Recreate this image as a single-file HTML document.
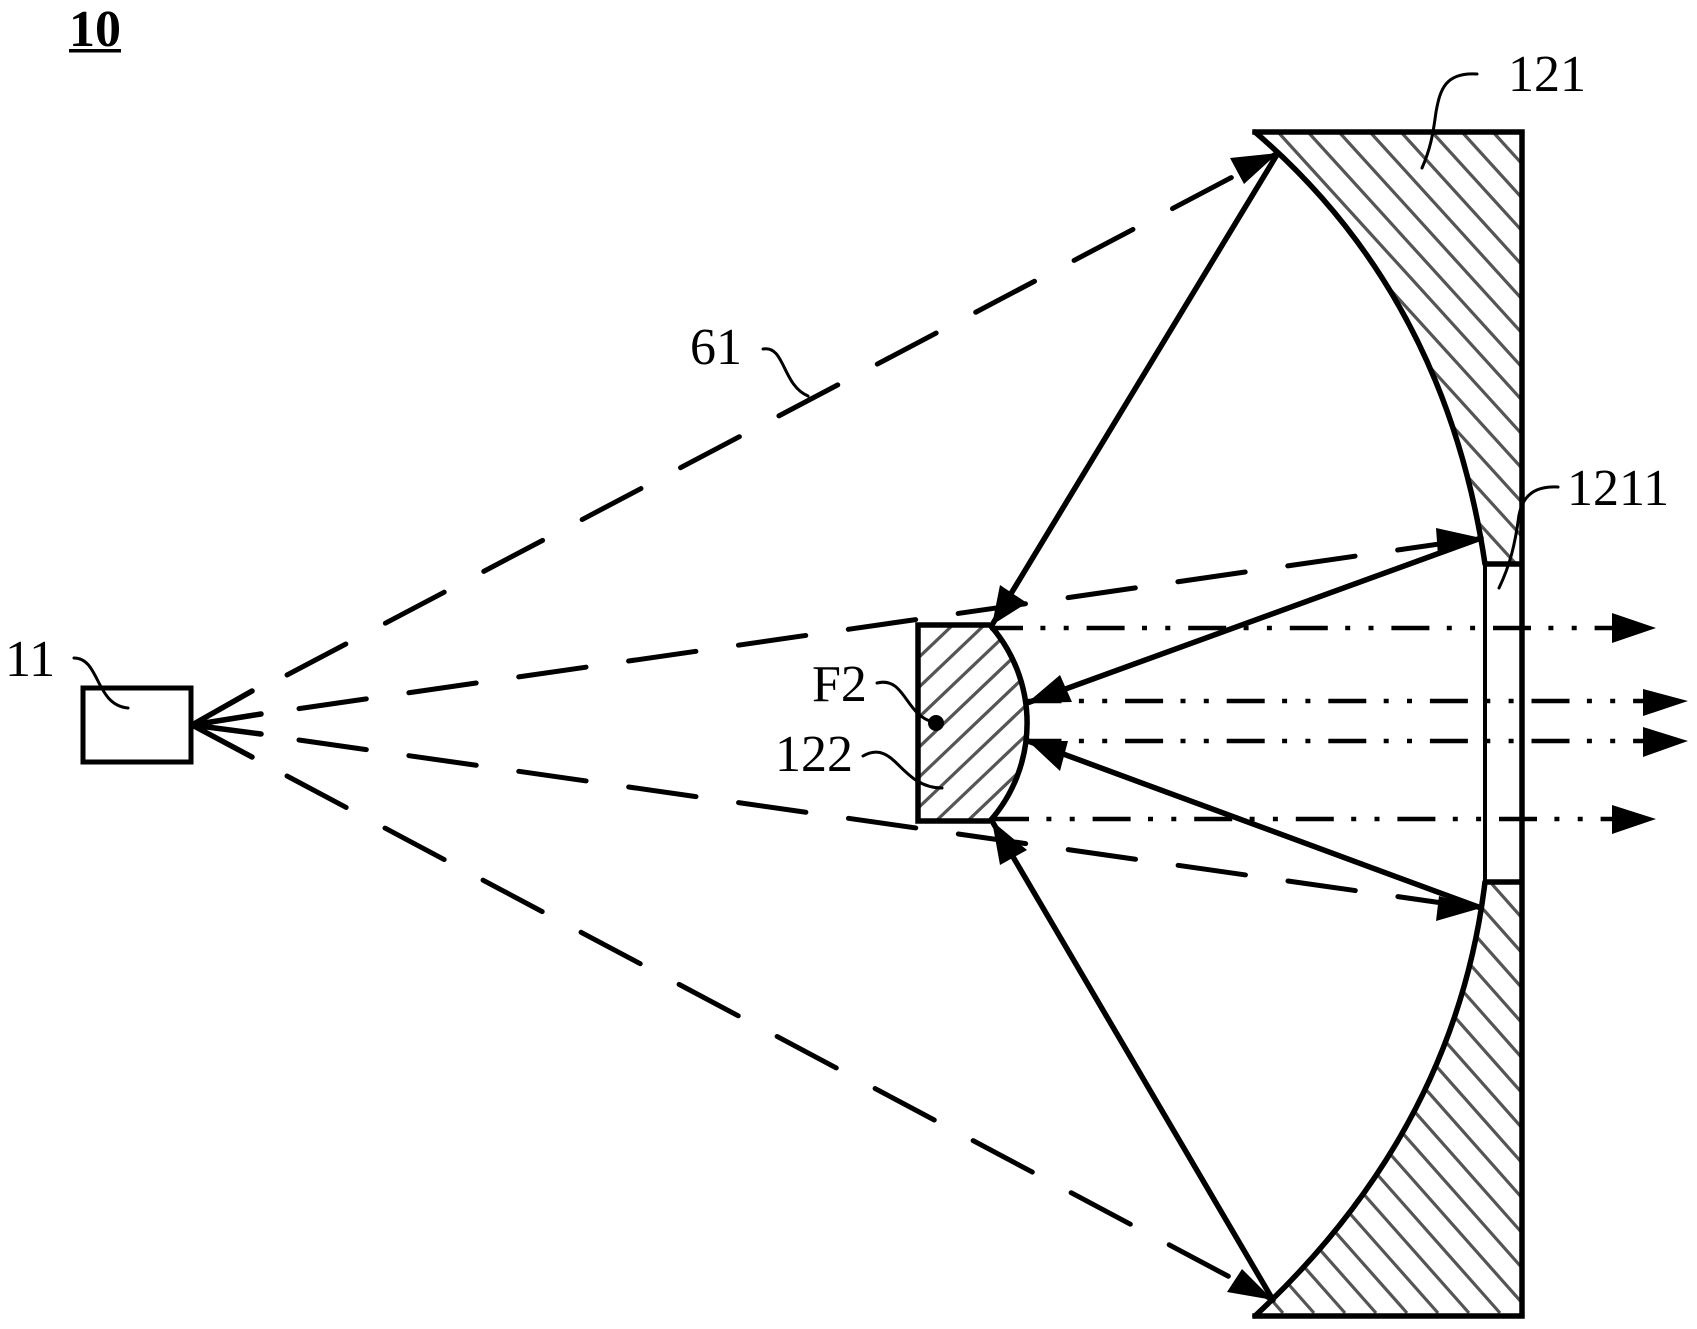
<!DOCTYPE html>
<html><head><meta charset="utf-8"><style>
html,body{margin:0;padding:0;background:#fff}
svg{display:block}
text{font-family:"Liberation Serif",serif;font-size:52px;fill:#000}
</style></head><body>
<svg width="1697" height="1329" viewBox="0 0 1697 1329" xmlns="http://www.w3.org/2000/svg">
<defs>
<clipPath id="m1"><path d="M1255 132L1522 132L1522 564L1485 564Q1445 295 1255 132Z"/></clipPath>
<clipPath id="m2"><path d="M1485 882L1522 882L1522 1316L1255 1316Q1455 1130 1485 882Z"/></clipPath>
<clipPath id="l"><path d="M918 625L990 625A148 148 0 0 1 990 821L918 821Z"/></clipPath>
</defs>
<g fill="none" stroke="#555" stroke-width="3.2">
<path clip-path="url(#m1)" d="M1092 132l393 432M1123 132l393 432M1154 132l393 432M1185 132l393 432M1216 132l393 432M1247 132l393 432M1278 132l393 432M1308 132l393 432M1339 132l393 432M1370 132l393 432M1401 132l393 432M1432 132l393 432M1462 132l393 432M1493 132l393 432"/>
<path clip-path="url(#m2)" d="M1283 1313l-381 -430M1314 1313l-381 -430M1345 1313l-381 -430M1376 1313l-381 -430M1407 1313l-381 -430M1438 1313l-381 -430M1469 1313l-381 -430M1500 1313l-381 -430M1531 1313l-381 -430M1562 1313l-381 -430M1593 1313l-381 -430M1624 1313l-381 -430M1655 1313l-381 -430M1686 1313l-381 -430M1717 1313l-381 -430M1748 1313l-381 -430M1779 1313l-381 -430M1810 1313l-381 -430M1841 1313l-381 -430M1872 1313l-381 -430M1903 1313l-381 -430M1934 1313l-381 -430"/>
<path clip-path="url(#l)" d="M915 661l125 -119M915 691l125 -119M915 721l125 -119M915 751l125 -119M915 781l125 -119M915 811l125 -119M915 841l125 -119M915 871l125 -119M915 901l125 -119M915 931l125 -119"/>
</g>
<g fill="none" stroke="#000" stroke-width="5.5" stroke-linecap="round">
<path d="M1255 132L1522 132L1522 1316L1255 1316" stroke-linecap="square"/>
<path d="M1255 132Q1445 295 1485 564"/>
<path d="M1255 1316Q1455 1130 1485 882"/>
<path d="M1485 564L1522 564M1485 882L1522 882" stroke-linecap="butt"/>
<path d="M1485 564L1485 882" stroke-width="4" stroke-linecap="butt"/>
<path d="M990 625L918 625L918 821L990 821M990 625A148 148 0 0 1 990 821" stroke-linecap="butt"/>
<rect x="83" y="688" width="108" height="74" stroke-width="5"/>
<path d="M192 725L252 691M192 725L261 714M192 725L261 734M192 725L252 757"/>
<path d="M1278 153L992 625M1273 1300L992 821M1481 538L1027 703M1481 908L1028 741"/>
</g>
<g fill="none" stroke="#000" stroke-width="5" stroke-linecap="round">
<path d="M287 675L1278 153" stroke-dasharray="66.5 44.7"/>
<path d="M287 776L1273 1300" stroke-dasharray="67 44"/>
<path d="M299 708.6L1481 538" stroke-dasharray="68 43"/>
<path d="M299 740L1481 908.5" stroke-dasharray="68 43"/>
</g>
<g fill="none" stroke="#000" stroke-width="4.5">
<path d="M990 628L1614 628" stroke-dasharray="38 17.4 5 18.3 5 17.9" stroke-dashoffset="5"/>
<path d="M1023.5 701L1645 701" stroke-dasharray="38 17.4 5 18.3 5 17.9"/>
<path d="M1023.5 741L1645 741" stroke-dasharray="38 17.4 5 18.3 5 17.9"/>
<path d="M991 819L1614 819" stroke-dasharray="38 17.4 5 18.3 5 17.9"/>
</g>
<g fill="#000">
<polygon points="1278,153 1230,158 1244,184"/>
<polygon points="992,625 1000,585 1027,603"/>
<polygon points="992,821 1000,865 1027,850"/>
<polygon points="1481,538 1436,528 1438,556"/>
<polygon points="1481,908 1439,896 1436,921"/>
<polygon points="1027,703 1060,675 1072,702"/>
<polygon points="1028,741 1060,771 1068,741"/>
<polygon points="1273,1300 1242,1269 1227,1292"/>
<polygon points="1656,628 1612,613 1612,643"/>
<polygon points="1688,701 1643,689 1643,716"/>
<polygon points="1688,741 1643,727 1643,757"/>
<polygon points="1656,819 1612,805 1612,834"/>
<circle cx="936" cy="723" r="8"/>
</g>
<g fill="none" stroke="#000" stroke-width="3" stroke-linecap="round">
<path d="M763 349C785 345 782 385 808 396"/>
<path d="M1477 74C1445 72 1440 90 1436 112C1433 135 1430 150 1422 168"/>
<path d="M1558 487C1535 486 1523 495 1519 515C1515 545 1510 565 1499 588"/>
<path d="M877 683C905 676 905 715 933 722"/>
<path d="M863 756C895 738 900 788 942 788"/>
<path d="M74 658C100 658 95 705 128 708"/>
</g>
<text x="69" y="46" style="font-weight:bold">10</text>
<rect x="69" y="49" width="52" height="3.5" fill="#000"/>
<text x="5" y="676">11</text>
<text x="690" y="364">61</text>
<text x="1508" y="91">121</text>
<text x="1567" y="505">1211</text>
<text x="812" y="701">F2</text>
<text x="775" y="771">122</text>
</svg>
</body></html>
